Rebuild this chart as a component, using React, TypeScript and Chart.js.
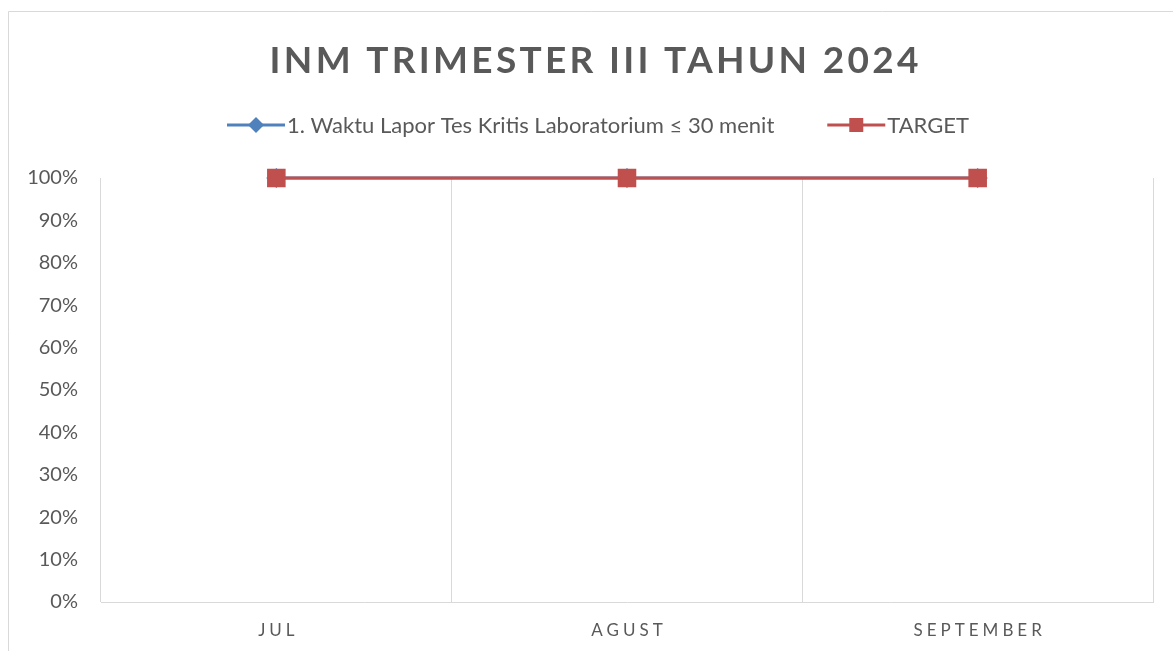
import React, { useEffect, useRef } from 'react';
import { Chart, registerables } from 'chart.js';

Chart.register(...registerables);

const TITLE = 'INM TRIMESTER III TAHUN 2024';
const CATEGORIES = ['JUL', 'AGUST', 'SEPTEMBER'];
const SERIES_NAME = '1. Waktu Lapor Tes Kritis Laboratorium ≤ 30 menit';
const SERIES_VALUES = [1, 1, 1];
const TARGET_NAME = 'TARGET';
const TARGET_VALUES = [1, 1, 1];

const W = 1173;
const H = 651;
const FONT = 'Lato, "Open Sans", sans-serif';
const TEXT = '#595959';
const BLUE = '#4F81BD';
const RED = '#C0504D';
const GRID = '#D9D9D9';

function spacedText(ctx: CanvasRenderingContext2D, text: string, cx: number, y: number, spacing: number) {
  (ctx as any).letterSpacing = spacing + 'px';
  const w = ctx.measureText(text).width;
  ctx.textAlign = 'left';
  ctx.fillText(text, cx - (w - spacing) / 2, y);
  (ctx as any).letterSpacing = '0px';
}

const overlay = {
  id: 'overlay',
  beforeDraw(chart: any) {
    const ctx: CanvasRenderingContext2D = chart.ctx;
    ctx.save();
    ctx.fillStyle = '#ffffff';
    ctx.fillRect(0, 0, chart.width, chart.height);
    ctx.strokeStyle = GRID;
    ctx.lineWidth = 1;
    ctx.beginPath();
    ctx.moveTo(8.5, chart.height + 2);
    ctx.lineTo(8.5, 11.5);
    ctx.lineTo(chart.width + 2, 11.5);
    ctx.stroke();
    ctx.restore();
  },
  afterDraw(chart: any) {
    const ctx: CanvasRenderingContext2D = chart.ctx;
    ctx.save();
    ctx.fillStyle = TEXT;
    ctx.textBaseline = 'alphabetic';

    // Title
    ctx.font = `bold 37px ${FONT}`;
    spacedText(ctx, TITLE, 594, 73, 3.3);

    // Legend
    const ds = chart.data.datasets;
    ctx.font = `22px ${FONT}`;
    ctx.textBaseline = 'middle';
    const seg = 58;
    const gap = 2;
    const itemGap = 53;
    const w1 = ctx.measureText(ds[0].label).width;
    const w2 = ctx.measureText(ds[1].label).width;
    const total = seg + gap + w1 + itemGap + seg + gap + w2;
    let x = 598 - total / 2;
    const ly = 125;
    const drawItem = (d: any, tw: number, marker: 'diamond' | 'square') => {
      ctx.strokeStyle = d.borderColor;
      ctx.lineWidth = 3;
      ctx.beginPath();
      ctx.moveTo(x, ly);
      ctx.lineTo(x + seg, ly);
      ctx.stroke();
      ctx.fillStyle = d.borderColor;
      const mx = x + seg / 2;
      ctx.beginPath();
      if (marker === 'diamond') {
        const r = 8;
        ctx.moveTo(mx, ly - r);
        ctx.lineTo(mx + r, ly);
        ctx.lineTo(mx, ly + r);
        ctx.lineTo(mx - r, ly);
        ctx.closePath();
      } else {
        ctx.rect(mx - 7, ly - 7, 14, 14);
      }
      ctx.fill();
      ctx.fillStyle = TEXT;
      ctx.textAlign = 'left';
      ctx.fillText(d.label, x + seg + gap, ly + 1);
      x += seg + gap + tw + itemGap;
    };
    drawItem(ds[0], w1, 'diamond');
    drawItem(ds[1], w2, 'square');

    // X category labels (letter-spaced)
    const xs = chart.scales.x;
    ctx.font = `17px ${FONT}`;
    ctx.textBaseline = 'middle';
    ctx.fillStyle = TEXT;
    chart.data.labels.forEach((lab: string, i: number) => {
      spacedText(ctx, lab, xs.getPixelForValue(i), 631, 4);
    });
    ctx.restore();
  },
};

export default function App() {
  const ref = useRef<HTMLCanvasElement>(null);
  useEffect(() => {
    document.body.style.margin = '0';
    const canvas = ref.current!;
    const chart = new Chart(canvas, {
      type: 'line',
      data: {
        labels: CATEGORIES,
        datasets: [
          {
            label: SERIES_NAME,
            data: SERIES_VALUES,
            borderColor: BLUE,
            backgroundColor: BLUE,
            borderWidth: 3,
            pointStyle: 'rectRot',
            pointRadius: 8,
            pointHoverRadius: 8,
            pointBackgroundColor: BLUE,
            pointBorderColor: BLUE,
            tension: 0,
            clip: false as any,
            order: 1,
          },
          {
            label: TARGET_NAME,
            data: TARGET_VALUES,
            borderColor: RED,
            backgroundColor: RED,
            borderWidth: 3,
            pointStyle: 'rect',
            pointRadius: 11,
            pointHoverRadius: 11,
            pointBackgroundColor: RED,
            pointBorderColor: RED,
            tension: 0,
            clip: false as any,
            order: 0,
          },
        ],
      },
      options: {
        responsive: false,
        animation: false,
        devicePixelRatio: 1,
        layout: { padding: { top: 178, left: 0, right: 20, bottom: 49 } },
        plugins: {
          legend: { display: false },
          title: { display: false },
          tooltip: { enabled: false },
        },
        scales: {
          x: {
            type: 'category',
            offset: true,
            grid: { display: true, offset: true, color: GRID, lineWidth: 1, drawTicks: false },
            border: { display: true, color: GRID, width: 1 },
            ticks: { display: false },
            afterFit: (s: any) => { s.height = 0; },
          },
          y: {
            min: 0,
            max: 1,
            grid: { display: false, drawTicks: false },
            border: { display: false },
            ticks: {
              stepSize: 0.1,
              padding: 23,
              color: TEXT,
              font: { family: FONT, size: 20 },
              callback: (v: any) => Math.round(Number(v) * 100) + '%',
            },
            afterFit: (s: any) => { s.width = 101; },
          },
        },
      },
      plugins: [overlay],
    });
    return () => chart.destroy();
  }, []);
  return (
    <div style={{ width: W, height: H }}>
      <canvas ref={ref} width={W} height={H} style={{ display: 'block' }} />
    </div>
  );
}
